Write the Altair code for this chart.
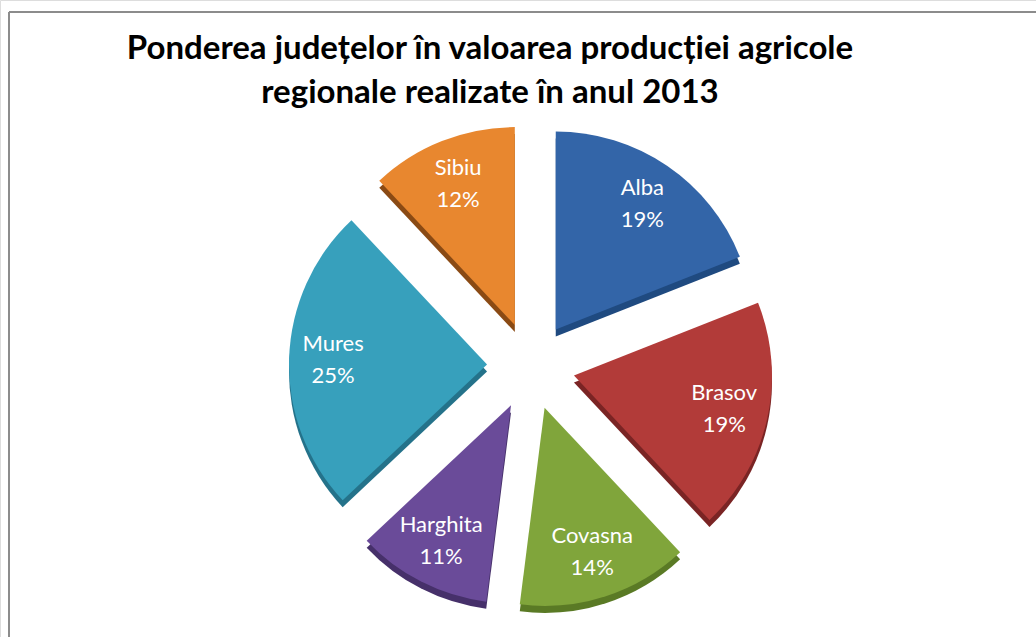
import altair as alt
import pandas as pd

# ---- data ----
counties = ["Alba", "Brasov", "Covasna", "Harghita", "Mures", "Sibiu"]
shares = [19, 19, 14, 11, 25, 12]
face_colors = ["#3365a8", "#b23b39", "#80a53b", "#6a4b99", "#37a0bc", "#e8872f"]
side_colors = ["#1f4a80", "#7a2424", "#5a7a25", "#46306a", "#24728a", "#8a4a14"]
title_lines = ["Ponderea județelor în valoarea producției agricole",
               "regionale realizate în anul 2013"]

df = pd.DataFrame({
    "county": counties,
    "share": shares,
    "face": face_colors,
    "side": side_colors,
    "order": list(range(len(counties))),
})

# ---- layout (styling) ----
W, H = 1036, 637
CX, CY = 531, 366      # pie centre
D = 44                 # explode distance
R = 198                # radius
LRX, LRY = 198, 196    # label distance from centre
DEPTH = 7              # 3D thickness
LH = 32                # label line height

base = alt.Chart(df).transform_joinaggregate(
    total="sum(share)"
).transform_window(
    cum="sum(share)", sort=[alt.SortField("order")], frame=[None, 0]
).transform_calculate(
    t0="2*PI*(datum.cum - datum.share)/datum.total",
    t1="2*PI*datum.cum/datum.total",
).transform_calculate(
    mid="(datum.t0 + datum.t1)/2",
).transform_calculate(
    cx=f"{CX} + {D}*sin(datum.mid)",
    cy=f"{CY} - {D}*cos(datum.mid)",
    cy_side=f"{CY} - {D}*cos(datum.mid) + {DEPTH}",
    lx=f"{CX} + {LRX}*sin(datum.mid)",
    ly=f"{CY} - {LRY}*cos(datum.mid) - {LH}/2",
    label="datum.county + '\\n' + datum.share + '%'",
)

side = base.mark_arc(radius=R).encode(
    x=alt.X("cx:Q", scale=None, axis=None),
    y=alt.Y("cy_side:Q", scale=None, axis=None),
    theta=alt.Theta("t0:Q", scale=None, stack=None),
    theta2="t1:Q",
    color=alt.Color("side:N", scale=None, legend=None),
)

face = base.mark_arc(radius=R).encode(
    x=alt.X("cx:Q", scale=None, axis=None),
    y=alt.Y("cy:Q", scale=None, axis=None),
    theta=alt.Theta("t0:Q", scale=None, stack=None),
    theta2="t1:Q",
    color=alt.Color("face:N", scale=None, legend=None),
)

labels = base.mark_text(
    font="Lato", fontSize=22, color="white", lineBreak="\n",
    align="center", baseline="middle", lineHeight=LH,
).encode(
    x=alt.X("lx:Q", scale=None, axis=None),
    y=alt.Y("ly:Q", scale=None, axis=None),
    text="label:N",
)

title = alt.Chart(pd.DataFrame({"t": ["\n".join(title_lines)]})).mark_text(
    font="Lato", fontSize=33, fontWeight="bold", color="black",
    lineBreak="\n", align="center", baseline="alphabetic", lineHeight=44,
).encode(
    x=alt.value(490), y=alt.value(59), text="t:N"
)

border_top = alt.Chart(pd.DataFrame({"a": [0]})).mark_rule(
    color="#8c8c8c", strokeWidth=2
).encode(x=alt.value(9), x2=alt.value(W), y=alt.value(12))
border_left = alt.Chart(pd.DataFrame({"a": [0]})).mark_rule(
    color="#8c8c8c", strokeWidth=2
).encode(x=alt.value(9), y=alt.value(12), y2=alt.value(H))

chart = alt.layer(
    border_top, border_left, side, face, labels, title
).properties(
    width=W, height=H, padding=0, autosize=alt.AutoSizeParams(type="none")
).configure_view(stroke=None).configure(background="white")

chart.save("out.html", embed_options={"renderer": "svg", "actions": False})
